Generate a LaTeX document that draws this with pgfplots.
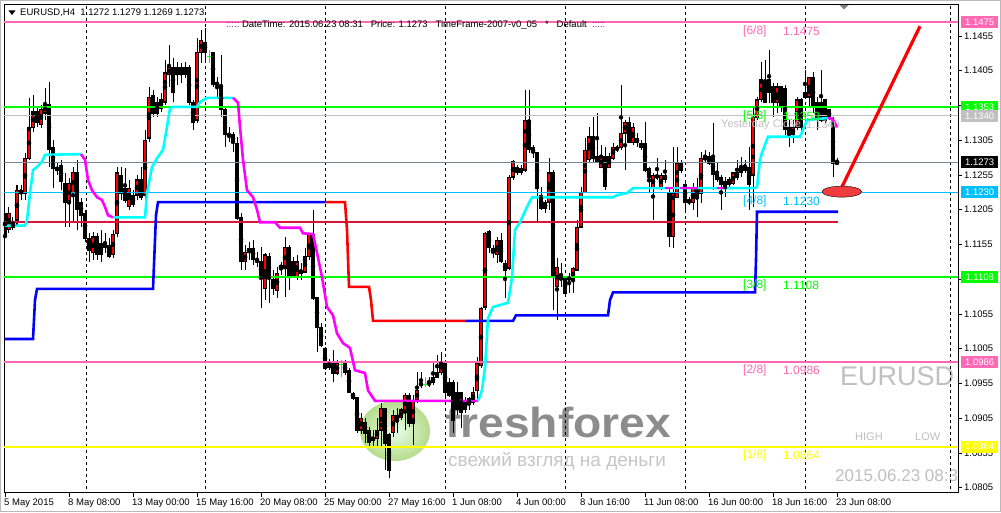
\documentclass[border=0pt]{standalone}
\usepackage{fontspec}
\setmainfont{Liberation Sans}
\usepackage{pgfplots}
\usepackage{pgfplotstable}
\pgfplotsset{compat=1.18}
\definecolor{mmpink}{HTML}{FF69B4}
\definecolor{mmlime}{HTML}{00FF00}
\definecolor{mmsky}{HTML}{00BFFF}
\definecolor{mmyellow}{HTML}{FFFF00}
\definecolor{crim}{HTML}{DC143C}
\definecolor{silv}{HTML}{C0C0C0}
\definecolor{bidgray}{HTML}{778899}
\definecolor{aquac}{HTML}{00FFFF}
\definecolor{magc}{HTML}{FF00FF}
\definecolor{wmgray}{HTML}{8C8C8C}
\definecolor{elred}{RGB}{240,60,60}
\newcommand\tf{\fontsize{9.5}{11}\selectfont}

\pgfplotstableread{
i o h l c
0 1.1200 1.1219 1.1115 1.1169
1 1.1176 1.1209 1.1171 1.1200
2 1.1187 1.1194 1.1176 1.1179
3 1.1190 1.1241 1.1180 1.1233
4 1.1233 1.1241 1.1219 1.1229
5 1.1229 1.1287 1.1219 1.1279
6 1.1279 1.1366 1.1277 1.1323
7 1.1323 1.1370 1.1317 1.1346
8 1.1346 1.1353 1.1324 1.1330
9 1.1327 1.1356 1.1323 1.1349
10 1.1344 1.1380 1.1334 1.1356
11 1.1356 1.1389 1.1266 1.1291
12 1.1295 1.1305 1.1236 1.1265
13 1.1266 1.1272 1.1255 1.1262
14 1.1269 1.1277 1.1233 1.1245
15 1.1243 1.1258 1.1180 1.1215
16 1.1216 1.1251 1.1180 1.1243
17 1.1230 1.1266 1.1186 1.1259
18 1.1259 1.1277 1.1176 1.1205
19 1.1216 1.1222 1.1180 1.1197
20 1.1200 1.1205 1.1158 1.1164
21 1.1164 1.1171 1.1130 1.1147
22 1.1143 1.1173 1.1133 1.1166
23 1.1166 1.1171 1.1133 1.1140
24 1.1157 1.1176 1.1130 1.1140
25 1.1157 1.1171 1.1143 1.1151
26 1.1154 1.1164 1.1135 1.1137
27 1.1140 1.1176 1.1135 1.1169
28 1.1171 1.1266 1.1166 1.1258
29 1.1255 1.1266 1.1219 1.1229
30 1.1236 1.1265 1.1215 1.1219
31 1.1209 1.1248 1.1205 1.1236
32 1.1226 1.1233 1.1209 1.1212
33 1.1226 1.1255 1.1219 1.1248
34 1.1248 1.1266 1.1219 1.1223
35 1.1226 1.1320 1.1219 1.1305
36 1.1308 1.1382 1.1302 1.1367
37 1.1370 1.1377 1.1338 1.1344
38 1.1360 1.1367 1.1338 1.1344
39 1.1351 1.1373 1.1346 1.1363
40 1.1360 1.1421 1.1356 1.1402
41 1.1399 1.1442 1.1382 1.1410
42 1.1410 1.1423 1.1360 1.1374
43 1.1399 1.1418 1.1385 1.1409
44 1.1409 1.1416 1.1387 1.1399
45 1.1399 1.1418 1.1395 1.1409
46 1.1410 1.1413 1.1356 1.1359
47 1.1359 1.1363 1.1320 1.1331
48 1.1334 1.1452 1.1330 1.1431
49 1.1431 1.1464 1.1416 1.1449
50 1.1446 1.1467 1.1416 1.1431
52 1.1431 1.1432 1.1382 1.1385
53 1.1385 1.1396 1.1367 1.1387
54 1.1382 1.1428 1.1338 1.1349
55 1.1349 1.1353 1.1295 1.1313
56 1.1313 1.1324 1.1302 1.1310
57 1.1313 1.1317 1.1288 1.1302
58 1.1301 1.1310 1.1190 1.1193
59 1.1194 1.1200 1.1118 1.1130
60 1.1130 1.1154 1.1118 1.1144
61 1.1143 1.1158 1.1133 1.1150
62 1.1150 1.1161 1.1125 1.1133
63 1.1133 1.1144 1.1122 1.1130
64 1.1130 1.1151 1.1063 1.1108
65 1.1092 1.1143 1.1075 1.1140
66 1.1137 1.1143 1.1071 1.1107
67 1.1104 1.1118 1.1082 1.1092
68 1.1089 1.1122 1.1078 1.1114
69 1.1121 1.1130 1.1111 1.1125
70 1.1121 1.1166 1.1079 1.1151
71 1.1151 1.1154 1.1089 1.1108
72 1.1130 1.1137 1.1107 1.1108
73 1.1108 1.1140 1.1104 1.1130
74 1.1118 1.1128 1.1104 1.1114
75 1.1115 1.1150 1.1114 1.1137
76 1.1137 1.1169 1.1133 1.1169
77 1.1169 1.1205 1.1075 1.1078
78 1.1078 1.1079 1.1000 1.1036
79 1.1036 1.1042 1.1007 1.1010
80 1.1006 1.1007 1.0974 1.0977
81 1.0978 1.0991 1.0974 1.0984
82 1.0984 1.1003 1.0957 1.0970
83 1.0970 1.0989 1.0967 1.0984
85 1.0984 1.0989 1.0967 1.0971
86 1.0974 1.0977 1.0941 1.0942
87 1.0941 1.0943 1.0931 1.0934
88 1.0935 1.0935 1.0883 1.0888
89 1.0888 1.0912 1.0883 1.0905
90 1.0899 1.0906 1.0869 1.0883
91 1.0888 1.0892 1.0863 1.0870
92 1.0873 1.0888 1.0863 1.0878
93 1.0876 1.0905 1.0862 1.0888
94 1.0888 1.0927 1.0863 1.0919
95 1.0919 1.0919 1.0830 1.0869
96 1.0881 1.0884 1.0819 1.0830
97 1.0884 1.0917 1.0878 1.0909
98 1.0902 1.0919 1.0884 1.0909
99 1.0906 1.0919 1.0902 1.0917
100 1.0914 1.0941 1.0888 1.0938
101 1.0938 1.0941 1.0892 1.0898
102 1.0898 1.0938 1.0866 1.0931
103 1.0931 1.0971 1.0927 1.0945
104 1.0955 1.0971 1.0948 1.0953
106 1.0953 1.0964 1.0950 1.0957
107 1.0957 1.0986 1.0953 1.0964
108 1.0964 1.0996 1.0964 1.0971
109 1.0971 1.1000 1.0967 1.0986
110 1.0986 1.0989 1.0935 1.0942
111 1.0957 1.0963 1.0935 1.0938
112 1.0957 1.0960 1.0883 1.0902
113 1.0942 1.0957 1.0909 1.0917
114 1.0942 1.0942 1.0891 1.0914
115 1.0917 1.0935 1.0912 1.0927
116 1.0934 1.0935 1.0917 1.0924
117 1.0927 1.0950 1.0924 1.0942
118 1.0945 1.0993 1.0931 1.0984
119 1.0981 1.1065 1.0978 1.1063
120 1.1065 1.1173 1.1061 1.1171
121 1.1173 1.1176 1.1143 1.1150
122 1.1150 1.1154 1.1135 1.1143
123 1.1140 1.1166 1.1128 1.1161
124 1.1161 1.1171 1.1128 1.1130
125 1.1128 1.1133 1.1078 1.1118
126 1.1121 1.1255 1.1118 1.1252
127 1.1252 1.1277 1.1248 1.1274
128 1.1259 1.1269 1.1255 1.1266
129 1.1265 1.1269 1.1255 1.1259
130 1.1262 1.1377 1.1259 1.1334
131 1.1334 1.1377 1.1287 1.1291
132 1.1294 1.1298 1.1279 1.1287
133 1.1287 1.1288 1.1187 1.1236
134 1.1226 1.1238 1.1205 1.1207
135 1.1207 1.1219 1.1200 1.1216
136 1.1216 1.1279 1.1205 1.1258
137 1.1258 1.1262 1.1061 1.1108
138 1.1094 1.1135 1.1046 1.1122
139 1.1104 1.1128 1.1094 1.1108
140 1.1107 1.1108 1.1082 1.1085
141 1.1104 1.1114 1.1085 1.1108
142 1.1104 1.1122 1.1085 1.1121
143 1.1118 1.1190 1.1118 1.1180
144 1.1180 1.1238 1.1179 1.1230
145 1.1230 1.1308 1.1229 1.1291
146 1.1277 1.1324 1.1272 1.1310
147 1.1310 1.1338 1.1272 1.1279
148 1.1274 1.1344 1.1272 1.1281
149 1.1266 1.1298 1.1265 1.1281
150 1.1281 1.1295 1.1233 1.1238
151 1.1266 1.1287 1.1265 1.1281
152 1.1279 1.1301 1.1277 1.1295
153 1.1291 1.1298 1.1288 1.1295
154 1.1294 1.1385 1.1291 1.1315
155 1.1315 1.1334 1.1262 1.1331
156 1.1331 1.1338 1.1301 1.1302
157 1.1301 1.1330 1.1298 1.1323
158 1.1308 1.1315 1.1295 1.1301
159 1.1301 1.1305 1.1291 1.1295
160 1.1301 1.1331 1.1259 1.1262
161 1.1265 1.1266 1.1229 1.1251
162 1.1236 1.1258 1.1190 1.1255
163 1.1255 1.1279 1.1248 1.1251
164 1.1236 1.1258 1.1233 1.1255
165 1.1255 1.1277 1.1243 1.1248
166 1.1229 1.1236 1.1151 1.1166
167 1.1166 1.1295 1.1150 1.1229
168 1.1223 1.1295 1.1222 1.1272
169 1.1272 1.1277 1.1258 1.1262
170 1.1241 1.1248 1.1200 1.1215
171 1.1215 1.1223 1.1212 1.1219
172 1.1215 1.1243 1.1205 1.1236
173 1.1236 1.1251 1.1194 1.1222
174 1.1229 1.1288 1.1215 1.1279
175 1.1281 1.1291 1.1272 1.1277
176 1.1281 1.1288 1.1269 1.1272
177 1.1279 1.1330 1.1233 1.1255
178 1.1259 1.1272 1.1245 1.1248
179 1.1252 1.1255 1.1205 1.1241
180 1.1245 1.1252 1.1223 1.1238
181 1.1241 1.1252 1.1238 1.1248
182 1.1243 1.1259 1.1241 1.1258
183 1.1252 1.1277 1.1248 1.1259
184 1.1258 1.1281 1.1252 1.1266
185 1.1262 1.1277 1.1258 1.1266
186 1.1266 1.1295 1.1205 1.1241
187 1.1255 1.1353 1.1209 1.1338
188 1.1338 1.1367 1.1334 1.1363
189 1.1363 1.1418 1.1360 1.1392
190 1.1389 1.1421 1.1359 1.1360
191 1.1392 1.1435 1.1359 1.1374
192 1.1382 1.1387 1.1338 1.1359
193 1.1359 1.1387 1.1344 1.1382
194 1.1382 1.1382 1.1346 1.1353
195 1.1380 1.1385 1.1313 1.1320
196 1.1324 1.1334 1.1295 1.1310
197 1.1313 1.1334 1.1301 1.1324
198 1.1324 1.1367 1.1320 1.1363
199 1.1363 1.1366 1.1313 1.1324
200 1.1367 1.1406 1.1366 1.1374
201 1.1367 1.1396 1.1353 1.1395
202 1.1395 1.1403 1.1344 1.1353
203 1.1359 1.1367 1.1320 1.1338
204 1.1360 1.1406 1.1331 1.1334
205 1.1363 1.1363 1.1330 1.1334
206 1.1349 1.1349 1.1334 1.1338
207 1.1334 1.1338 1.1252 1.1272
208 1.1272 1.1279 1.1269 1.1273
}\candles

\pgfplotstableread{
i o h l c
51 1.1425 1.1435 1.1416 1.1425
84 1.0983 1.0989 1.0964 1.0983
105 1.0953 1.0964 1.0950 1.0953
}\dojis

\begin{document}
\begin{tikzpicture}[x=1pt,y=1pt]
\fill[white] (0,0) rectangle (1001,512);
\draw[gray!55, line width=1pt] (0.5,0.5) rectangle (1000.5,511.5);
% watermark
\shade[inner color=green!12!white, outer color={rgb,255:red,150;green,205;blue,90}, opacity=0.7] (395,81) ellipse [x radius=35, y radius=30];
\node[anchor=base west, inner sep=0pt, text=wmgray, font=\fontsize{42}{42}\selectfont\bfseries, xscale=1.1] at (445,75) {freshforex};
\node[anchor=base west, inner sep=0pt, text=gray!45, font=\fontsize{19}{19}\selectfont] at (448,46) {свежий взгляд на деньги};
\node[anchor=west, inner sep=0pt, text=silv, font=\fontsize{27}{27}\selectfont] at (840,136) {EURUSD};
\node[anchor=west, inner sep=0pt, text=gray!50, font=\fontsize{11}{11}\selectfont] at (855,75) {HIGH};
\node[anchor=west, inner sep=0pt, text=gray!50, font=\fontsize{11}{11}\selectfont] at (915,75) {LOW};
\begin{scope}
\clip (4,19.5) rectangle (958,508);
\node[anchor=west, inner sep=0pt, text=gray!50, font=\fontsize{17}{17}\selectfont] at (835,36) {2015.06.23 08:31};
\end{scope}

\begin{axis}[
  at={(4pt,19.5pt)}, anchor=south west,
  width=954pt, height=488.5pt, scale only axis,
  xmin=-0.25, xmax=238.25, ymin=1.07981, ymax=1.15010,
  axis line style={black, line width=0.8pt},
  xtick={0,16,32,48,64,80,96,112,128,144,160,176,192,208},
  xticklabels={5 May 2015,8 May 08:00,13 May 00:00,15 May 16:00,20 May 08:00,25 May 00:00,27 May 16:00,1 Jun 08:00,4 Jun 00:00,8 Jun 16:00,11 Jun 08:00,16 Jun 00:00,18 Jun 16:00,23 Jun 08:00},
  xtick pos=bottom, xtick align=outside,
  ytick={1.0805,1.0855,1.0905,1.0955,1.1005,1.1055,1.1105,1.1155,1.1205,1.1255,1.1305,1.1355,1.1405,1.1455},
  yticklabels={1.0805,1.0855,1.0905,1.0955,1.1005,1.1055,1.1105,1.1155,1.1205,1.1255,1.1305,1.1355,1.1405,1.1455},
  ytick pos=right, ytick align=outside, yticklabel pos=right,
  major tick length=4pt,
  tick style={black, line width=0.8pt},
  ticklabel style={font=\tf, inner sep=0pt},
  xticklabel style={anchor=north west, xshift=-1pt, yshift=-2pt},
  yticklabel style={anchor=west, xshift=2pt},
  clip=true,
]
% vertical grid
\pgfplotsinvokeforeach{20.25,50,80,110,140,170,200,236.25}{
  \draw[black, line width=0.7pt, dash pattern=on 3pt off 3pt] (axis cs:#1,1.07) -- (axis cs:#1,1.16);
}
% candles: wicks
\addplot[only marks, mark=none, forget plot,
  error bars/.cd, y dir=both, y explicit, error mark=none,
  error bar style={black, line width=1pt}]
  table[x=i, y expr={(\thisrow{h}+\thisrow{l})/2}, y error expr={(\thisrow{h}-\thisrow{l})/2}] {\candles};
% bodies
\addplot[only marks, mark=none, forget plot,
  error bars/.cd, y dir=both, y explicit, error mark=none,
  error bar style={black, line width=3.2pt}]
  table[x=i, y expr={(\thisrow{o}+\thisrow{c})/2}, y error expr={abs(\thisrow{o}-\thisrow{c})/2+0.00007}] {\candles};
\addplot[only marks, mark=none, forget plot,
  error bars/.cd, y dir=both, y explicit, error mark=none,
  error bar style={red, line width=1.2pt}]
  table[x=i, y expr={(\thisrow{o}+\thisrow{c})/2}, y error expr={max((\thisrow{c}-\thisrow{o})/2-0.00011,0)}] {\candles};
% dojis
\addplot[only marks, mark=-, mark size=1.6pt, mark options={mmlime, line width=1pt}, forget plot,
  error bars/.cd, y dir=both, y explicit, error mark=none,
  error bar style={mmlime, line width=1pt}]
  table[x=i, y=c, y error expr={0}, y error plus expr={\thisrow{h}-\thisrow{c}}, y error minus expr={\thisrow{c}-\thisrow{l}}] {\dojis};

% horizontal levels
\addplot[mmpink, line width=1.6pt] coordinates {(-1,1.1475) (240,1.1475)};
\addplot[mmlime, line width=1.6pt] coordinates {(-1,1.1353) (240,1.1353)};
\addplot[silv, line width=1pt] coordinates {(-1,1.1340) (240,1.1340)};
\addplot[bidgray, line width=1pt] coordinates {(-1,1.1273) (240,1.1273)};
\addplot[mmsky, line width=1.6pt] coordinates {(-1,1.1230) (240,1.1230)};
\addplot[mmlime, line width=1.6pt] coordinates {(-1,1.1108) (240,1.1108)};
\addplot[mmpink, line width=1.6pt] coordinates {(-1,1.0986) (240,1.0986)};
\addplot[mmyellow, line width=1.6pt] coordinates {(-1,1.0864) (240,1.0864)};
\addplot[crim, line width=2.4pt] coordinates {(0,1.1187) (208.25,1.1187)};

% blue/red step line
\addplot[blue, line width=2.6pt] coordinates {(0,1.1019)(7,1.1019)(7.5,1.1075)(8,1.1091)(37,1.1091)(37.75,1.1197)(38.25,1.1216)(80,1.1216)};
\addplot[red, line width=2.6pt] coordinates {(80,1.1216)(85,1.1216)(85.5,1.1176)(86,1.1094)(91,1.1094)(91.5,1.1075)(92,1.1045)(115.25,1.1045)};
\addplot[blue, line width=2.6pt] coordinates {(115.25,1.1045)(127,1.1045)(127.75,1.1053)(150.75,1.1053)(151.25,1.1075)(152,1.1086)(187.5,1.1086)(187.75,1.1133)(188,1.1202)(208.25,1.1202)};

% cyan / magenta line
\addplot[aquac, line width=2.6pt] coordinates {(0,1.1182)(5,1.1182)(5.5,1.1190)(6.25,1.1229)(7,1.1262)(8.25,1.1268)(9.25,1.1274)(10,1.1284)(19,1.1285)};
\addplot[magc, line width=2.6pt] coordinates {(19,1.1285)(20,1.1277)(20.75,1.1248)(21.75,1.1233)(23,1.1223)(24.25,1.1219)(25,1.1209)(25.75,1.1197)(27,1.1194)};
\addplot[aquac, line width=2.6pt] coordinates {(27,1.1194)(35,1.1194)(35.5,1.1229)(36.75,1.1266)(38,1.1279)(39.5,1.1291)(40.5,1.1324)(41.25,1.1351)(42,1.1353)(48,1.1353)(48.75,1.1360)(50.5,1.1366)(57,1.1366)};
\addplot[magc, line width=2.6pt] coordinates {(57,1.1366)(58.25,1.1359)(58.75,1.1324)(59.5,1.1277)(60.5,1.1233)(62,1.1223)(63,1.1205)(63.75,1.1187)(67.5,1.1187)(68.75,1.1179)(73.75,1.1179)(74.5,1.1171)(77,1.1170)(78,1.1143)(79.25,1.1108)(80.5,1.1065)(82,1.1053)(83,1.1027)(84.5,1.1013)(86.25,1.1006)(87.5,1.0974)(90,1.0970)(90.75,1.0945)(92.5,1.0930)(118.25,1.0930)};
\addplot[aquac, line width=2.6pt] coordinates {(118.25,1.0930)(119.25,1.0945)(120,1.0978)(120.75,1.1049)(122,1.1065)(125.75,1.1071)(126.25,1.1089)(126.75,1.1108)(127.5,1.1176)(128.75,1.1187)(130.5,1.1209)(131.75,1.1223)(152,1.1223)(153,1.1226)(155.5,1.1229)(157,1.1236)(187.5,1.1236)(188,1.1238)(188.75,1.1277)(189.25,1.1287)(190.75,1.1310)(198.75,1.1310)(199.5,1.1320)(200.5,1.1334)(205.75,1.1337)};
\addplot[magc, line width=2.6pt] coordinates {(205.75,1.1337)(206.75,1.1336)(207.5,1.1330)(208,1.1323)};
\addplot[magc, line width=2.6pt] coordinates {(165,1.1236)(167,1.1236)};
\addplot[magc, line width=2.6pt] coordinates {(168.75,1.1236)(173.25,1.1236)};
\addplot[magc, line width=2.6pt] coordinates {(178,1.1236)(180.5,1.1236)};

% red annotation
\addplot[only marks, mark=*, mark size=5.5pt, mark options={xscale=3.6, fill=elred, draw=none}] coordinates {(209.2,1.1231)};
\addplot[red, line width=3.2pt] coordinates {(209.25,1.1238)(228.75,1.1469)};
\end{axis}

% level labels
\begin{scope}[every node/.style={anchor=west, inner sep=0pt, font=\fontsize{12}{12}\selectfont}]
\node[text=mmpink] at (743,481) {[6/8]};   \node[text=mmpink] at (783,481) {1.1475};
\node[text=silv, font=\fontsize{11}{11}\selectfont] at (721,387) {Yesterday Close};
\node[text=silv, font=\fontsize{11}{11}\selectfont] at (806,387) {1.1340};
\node[text=mmlime] at (743,396) {[5/8]};   \node[text=mmlime] at (783,396) {1.1353};
\node[text=mmsky] at (743,311) {[4/8]};    \node[text=mmsky] at (783,311) {1.1230};
\node[text=mmlime] at (743,227) {[3/8]};   \node[text=mmlime] at (783,227) {1.1108};
\node[text=mmpink] at (743,142) {[2/8]};   \node[text=mmpink] at (783,142) {1.0986};
\node[text=mmyellow] at (743,57) {[1/8]};  \node[text=mmyellow] at (783,57) {1.0864};
\end{scope}

% right price boxes
\begin{scope}[every node/.style={anchor=west, inner sep=0pt, minimum width=37pt, minimum height=12pt, text=white, font=\tf}]
\node[fill=mmpink] at (961,489.9) {1.1475};
\node[fill=mmlime] at (961,405.1) {1.1353};
\node[fill=silv] at (961,396.1) {1.1340};
\node[fill=black] at (961,349.5) {1.1273};
\node[fill=mmsky] at (961,319.6) {1.1230};
\node[fill=mmlime] at (961,234.9) {1.1108};
\node[fill=mmpink] at (961,150.1) {1.0986};
\node[fill=mmyellow] at (961,65.3) {1.0864};
\end{scope}

% header
\fill[black] (8.5,501.5) -- (15.5,501.5) -- (12,497) -- cycle;
\node[anchor=west, inner sep=0pt, font=\tf] at (20,499) {EURUSD,H4\ \ 1.1272 1.1279 1.1269 1.1273};
\node[anchor=west, inner sep=0pt, font=\tf] at (226,487) {{\color{magc!60!black}:::::}\ DateTime: 2015.06.23 08:31\ \ \ Price: 1.1273\ \ \ TimeFrame-2007-v0\_05\ \ \ *\ \ \ Default\ \ {\color{magc!60!black}:::::}};
\fill[gray] (839.5,507) -- (848.5,507) -- (844,502.5) -- cycle;

\pgfresetboundingbox
\useasboundingbox (0,0) rectangle (1001,512);
\end{tikzpicture}
\end{document}
